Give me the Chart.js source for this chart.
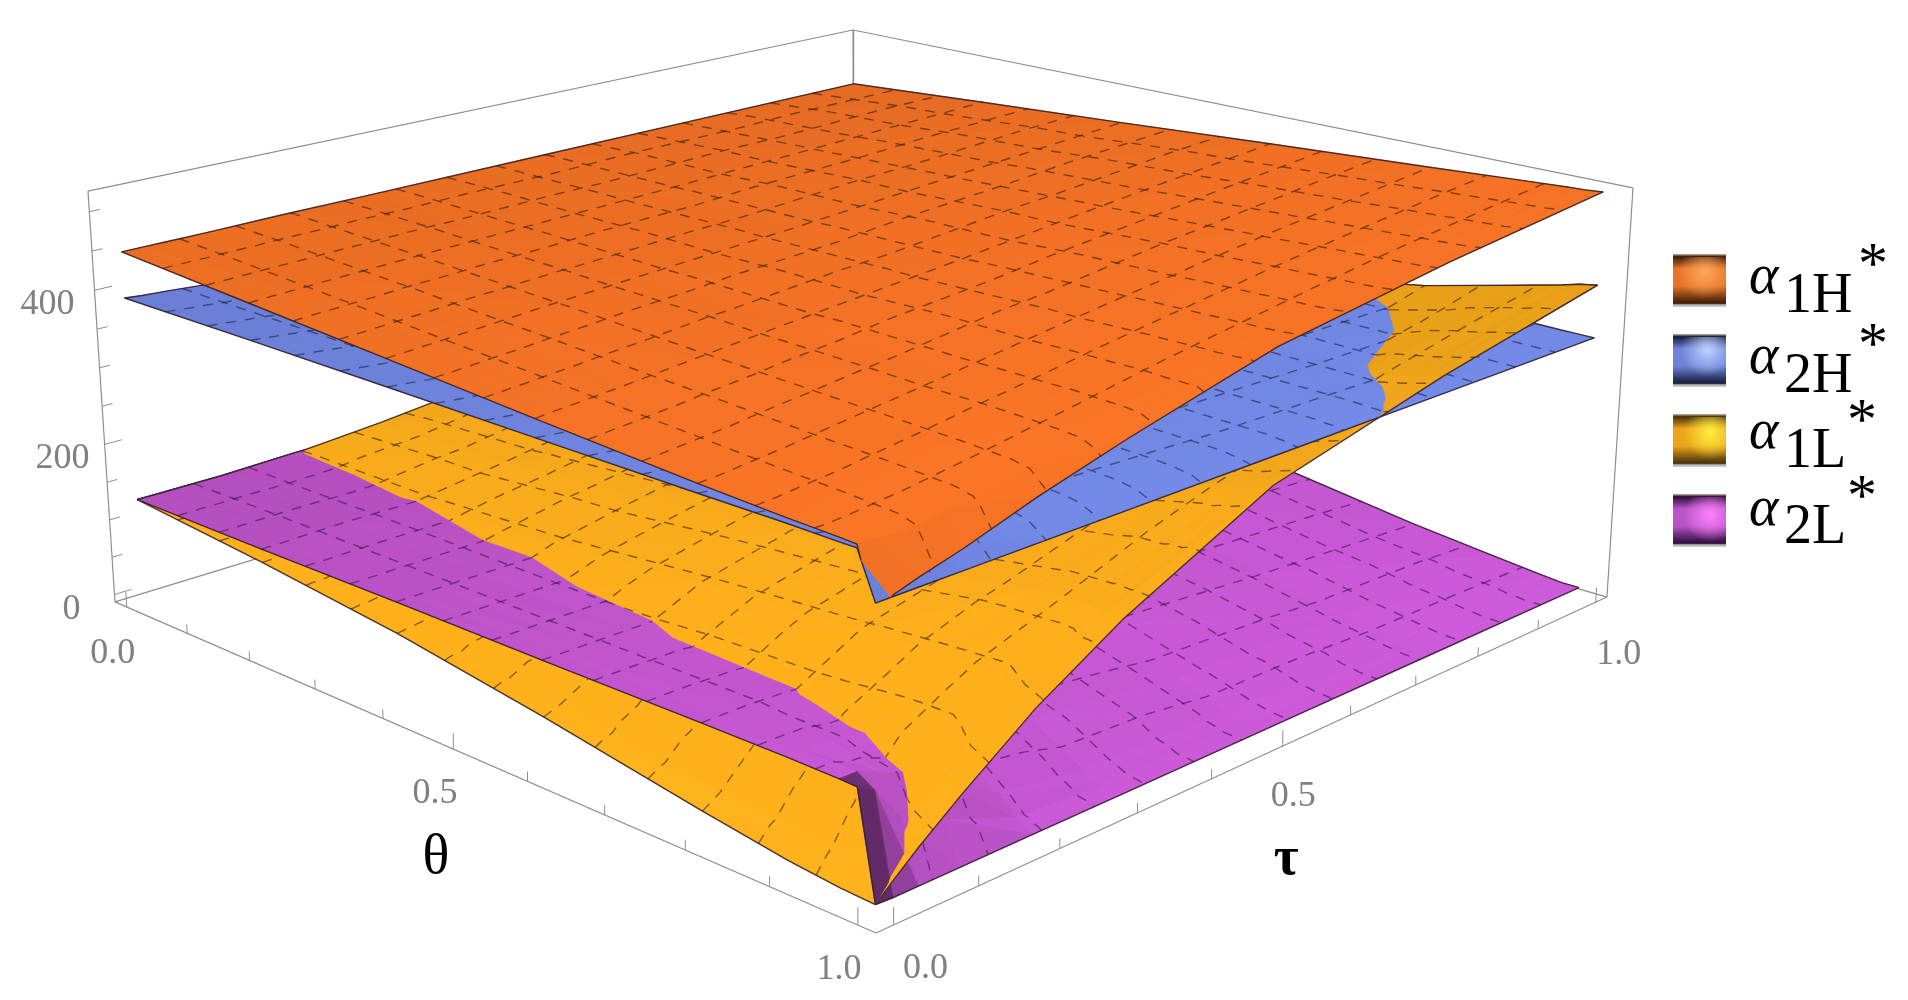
<!DOCTYPE html>
<html>
<head>
<meta charset="utf-8">
<title>alpha</title>
<script src="https://cdn.jsdelivr.net/npm/chart.js@4/dist/chart.umd.min.js"></script>
<style>
    html,body{margin:0;padding:0;background:#fff;}
    canvas{display:block;}
</style>
</head>
<body>
<canvas id="grafico" width="1908" height="1000"></canvas>
<script>

// Datos: filas = theta, columnas = tau

const thetaVals = [0,.2,.4,.6,.8,.9,.96,.98,1];
const tauVals = [0,.02,.05,.1,.19,.3,.5,.75,1];

const alpha1H = [
    [449,449,449,449,450,450,451,452,453],
    [436,437,438,440,443,446,451,459,467],
    [423,424,426,429,435,441,451,466,480],
    [410,412,414,418,426,436,452,474,494],
    [398,399,402,407,418,431,456,484,507],
    [393,394,397,402,414,430,458,489,514],
    [391,391,393,398,410,427,459,492,518],
    [390,388,386,393,406,425,460,493,519],
    [320,336,345,358,386,415,462,495,521]
];

const alpha2H = [
    [390,388,386,382,376,368,358,350,345],
    [390,388,385,380,372,364,354,346,342],
    [389,387,384,378,369,361,351,344,340],
    [388,386,383,376,367,358,348,342,338],
    [387,385,381,373,364,355,345,339,336],
    [387,384,379,370,361,352,342,337,335],
    [386,382,375,365,356,348,340,336,334],
    [386,378,369,358,350,344,338,335,334],
    [334,334,334,334,334,334,334,334,334]
];

const alpha1L = [
    [127,125,122,117,129,138,160,185,210],
    [110,110,110,110,129,145,178,212,245],
    [89,92,97,107,138,160,195,240,280],
    [60,68,85,115,155,180,215,270,312],
    [27,40,70,120,168,195,240,295,350],
    [12,35,75,130,175,212,270,333,376],
    [6,35,85,130,178,214,285,345,392],
    [5,30,60,97,158,212,292,350,398],
    [4,22,47,85,148,210,299,356,402]
];

const alpha2L = [
    [127,127,127,127,130,130,130,130,130],
    [127,127,128,129,128,125,120,112,105],
    [128,128,128,128,128,122,110,95,80],
    [128,128,128,128,128,115,95,75,55],
    [129,129,129,127,115,90,60,40,24],
    [129,129,128,118,85,55,30,18,12],
    [128,128,115,95,35,18,10,7,5],
    [127,115,70,50,14,7,5,4,3],
    [4,3,3,3,3,3,3,3,3]
];

const meshLines = [1,2,3,4,5,6,7,8,9,10,11,12,13,14].map(k => k / 15);

const thetaTicks = [0,.1,.2,.3,.4,.5,.6,.7,.8,.9,1];
const tauTicks = [0,.1,.2,.3,.4,.5,.6,.7,.8,.9,1];
const zTicks = [0,50,100,150,200,250,300,350,400,450,500];

const horizVals = [0,.5,1];
const horizLabels = ["0.0","0.5","1.0"];
const zVals = [0,200,400];
const zLabels = ["0","200","400"];
const legendSubs = ["1H","2H","1L","2L"];

// Caja y camara

const PAD = .02;
const Z_MIN = -10;
const Z_MAX = 526;

const boxPoints = [
    [-PAD,-PAD,Z_MIN],
    [-PAD,-PAD,Z_MAX],
    [1+PAD,1+PAD,Z_MIN],
    [1+PAD,1+PAD,Z_MAX],
    [1+PAD,-PAD,Z_MIN],
    [-PAD,1+PAD,Z_MAX]
];

const screenPoints = [
    [115,602],[88,191],[1607,597],[1633,188],[876,933],[853,30]
];

function solveCamera(){

    const rows = [];
    const rhs = [];

    boxPoints.forEach((p,i) => {

        const sx = screenPoints[i][0] / 1000;
        const sy = screenPoints[i][1] / 1000;
        const [a,b,c] = [p[0],p[1],p[2] / 500];

        rows.push([a,b,c,1,0,0,0,0,-sx*a,-sx*b,-sx*c]);
        rhs.push(sx);
        rows.push([0,0,0,0,a,b,c,1,-sy*a,-sy*b,-sy*c]);
        rhs.push(sy);

    });

    const n = 11;
    const m = [];

    for(let i = 0; i < n; i++){
        m.push([]);
        for(let j = 0; j < n; j++){
            let s = 0;
            rows.forEach(r => { s += r[i] * r[j]; });
            m[i].push(s);
        }
        let s = 0;
        rows.forEach((r,k) => { s += r[i] * rhs[k]; });
        m[i].push(s);
    }

    for(let i = 0; i < n; i++){
        let best = i;
        for(let k = i + 1; k < n; k++){
            if(Math.abs(m[k][i]) > Math.abs(m[best][i])) best = k;
        }
        [m[i],m[best]] = [m[best],m[i]];
        for(let k = 0; k < n; k++){
            if(k === i) continue;
            const f = m[k][i] / m[i][i];
            for(let j = i; j <= n; j++) m[k][j] -= f * m[i][j];
        }
    }

    return m.map((r,i) => r[n] / r[i]);

}

const cam = solveCamera();

function project(t,u,z){

    const c = z / 500;
    const w = cam[8]*t + cam[9]*u + cam[10]*c + 1;

    return {
        x: 1000 * (cam[0]*t + cam[1]*u + cam[2]*c + cam[3]) / w,
        y: 1000 * (cam[4]*t + cam[5]*u + cam[6]*c + cam[7]) / w
    };

}

// Utilidades sobre la malla

function cellIndex(vals,v){

    let i = 0;
    while(i < vals.length - 2 && v > vals[i+1]) i++;
    return i;

}

function zAt(grid,t,u){

    const i = cellIndex(thetaVals,t);
    const j = cellIndex(tauVals,u);
    const ft = (t - thetaVals[i]) / (thetaVals[i+1] - thetaVals[i]);
    const fu = (u - tauVals[j]) / (tauVals[j+1] - tauVals[j]);

    if(fu <= ft){
        return grid[i][j] + ft*(grid[i+1][j] - grid[i][j]) + fu*(grid[i+1][j+1] - grid[i+1][j]);
    }

    return grid[i][j] + fu*(grid[i][j+1] - grid[i][j]) + ft*(grid[i+1][j+1] - grid[i][j+1]);

}

function mix(a,b,f){

    return {
        t: a.t + f*(b.t - a.t),
        u: a.u + f*(b.u - a.u),
        z: a.z + f*(b.z - a.z),
        d: a.d + f*(b.d - a.d)
    };

}

function vertex(grid,other,t,u){

    const z = zAt(grid,t,u);
    return {t,u,z,d: other ? z - zAt(other,t,u) : 1};

}

function clipPoly(verts){

    const out = [];

    verts.forEach((a,i) => {
        const b = verts[(i+1) % verts.length];
        if(a.d > 0) out.push(a);
        if((a.d > 0) !== (b.d > 0)) out.push(mix(a,b,a.d / (a.d - b.d)));
    });

    return out;

}

function toData(pts){

    return pts.map(p => project(p.t,p.u,p.z));

}

function shadeColor(style,pts){

    const [a,b,c] = pts;
    const k = 1 / 975;
    const ux = b.t - a.t, uy = b.u - a.u, uz = (b.z - a.z) * k;
    const vx = c.t - a.t, vy = c.u - a.u, vz = (c.z - a.z) * k;
    let nx = uy*vz - uz*vy, ny = uz*vx - ux*vz, nz = ux*vy - uy*vx;
    const len = Math.hypot(nx,ny,nz) || 1;
    if(nz < 0){ nx = -nx; ny = -ny; nz = -nz; }

    const light = (nx*style.light[0] + ny*style.light[1] + nz*style.light[2]) / len;
    const ct = pts.reduce((s,p) => s + p.t,0) / pts.length;
    const cu = pts.reduce((s,p) => s + p.u,0) / pts.length;
    const rel = Math.min(1.05,Math.max(light,0) / style.light[2]);
    let f = (1 - style.s*(1 - rel)) * (1 + style.a*(ct - .5) + style.b*(cu - .5));

    // Pliegue oscuro junto a theta = 1, tau = 0

    if(style.fold && ct > .955 && cu < .014) f *= style.fold;
    else if(style.fold && ct > .955 && cu < .035) f *= .82;

    return "rgb(" + style.rgb.map(v => Math.min(255,Math.round(v*f))).join(",") + ")";

}

// Conjuntos de datos, en orden de pintado

const painted = [];

function addLine(data,color,width,dash){

    painted.push({
        data,
        showLine:true,
        fill:false,
        borderColor:color,
        borderWidth:width,
        borderDash:dash || [],
        pointRadius:0,
        tension:0
    });

}

function addPoly(pts,color){

    const data = toData(pts);
    data.push(data[0]);

    painted.push({
        data,
        showLine:true,
        fill:"shape",
        backgroundColor:color,
        borderColor:color,
        borderWidth:.8,
        pointRadius:0,
        tension:0
    });

}

function addRuns(pts,color,width,dash){

    let run = [];

    pts.forEach((p,i) => {
        if(i > 0 && (pts[i-1].d > 0) !== (p.d > 0)){
            const cross = mix(pts[i-1],p,pts[i-1].d / (pts[i-1].d - p.d));
            run.push(cross);
            if(run.length > 1 && pts[i-1].d > 0) addLine(toData(run),color,width,dash);
            run = [cross];
        }
        if(p.d > 0) run.push(p);
    });

    if(run.length > 1 && pts[pts.length-1].d > 0) addLine(toData(run),color,width,dash);

}

function addLayer(grid,other,style){

    // Triangulos de atras hacia adelante

    const tris = [];

    for(let i = 0; i < thetaVals.length - 1; i++){
        for(let j = 0; j < tauVals.length - 1; j++){

            const t0 = thetaVals[i], t1 = thetaVals[i+1];
            const u0 = tauVals[j], u1 = tauVals[j+1];

            tris.push([[t0,u0],[t1,u0],[t1,u1]]);
            tris.push([[t0,u0],[t1,u1],[t0,u1]]);

        }
    }

    tris.sort((p,q) => {
        const dp = p[0][0] + p[1][0] + p[2][0] - p[0][1] - p[1][1] - p[2][1];
        const dq = q[0][0] + q[1][0] + q[2][0] - q[0][1] - q[1][1] - q[2][1];
        return dp - dq;
    });

    tris.forEach(tri => {

        const verts = tri.map(v => {
            const i = thetaVals.indexOf(v[0]);
            const j = tauVals.indexOf(v[1]);
            const z = grid[i][j];
            return {t:v[0],u:v[1],z,d: other ? z - other[i][j] : 1};
        });

        const poly = clipPoly(verts);
        if(poly.length < 3) return;

        addPoly(poly,shadeColor(style,verts));

    });

    // Malla discontinua

    meshLines.forEach(c => {

        const j = cellIndex(tauVals,c);
        const i = cellIndex(thetaVals,c);

        const us = [];
        tauVals.forEach((u,k) => {
            us.push(u);
            if(k < tauVals.length - 1){
                const f = (c - thetaVals[i]) / (thetaVals[i+1] - thetaVals[i]);
                us.push(u + f*(tauVals[k+1] - u));
            }
        });

        const ts = [];
        thetaVals.forEach((t,k) => {
            ts.push(t);
            if(k < thetaVals.length - 1){
                const f = (c - tauVals[j]) / (tauVals[j+1] - tauVals[j]);
                ts.push(t + f*(thetaVals[k+1] - t));
            }
        });

        addRuns(us.map(u => vertex(grid,other,c,u)),style.mesh,1.4,[10,9]);
        addRuns(ts.map(t => vertex(grid,other,t,c)),style.mesh,1.4,[10,9]);

    });

    // Borde de la superficie

    const edge = "rgba(45,28,40,.85)";

    [0,1].forEach(v => {
        addRuns(tauVals.map(u => vertex(grid,other,v,u)),edge,1.4);
        addRuns(thetaVals.map(t => vertex(grid,other,t,v)),edge,1.4);
    });

}

// Caja

const boxColor = "#8e8e8e";
const lo = -PAD, hi = 1 + PAD;

[
    [[lo,lo,Z_MIN],[lo,lo,Z_MAX]],
    [[lo,lo,Z_MAX],[lo,hi,Z_MAX]],
    [[lo,hi,Z_MAX],[hi,hi,Z_MAX]],
    [[hi,hi,Z_MAX],[hi,hi,Z_MIN]],
    [[lo,hi,Z_MAX],[lo,hi,Z_MIN]],
    [[lo,lo,Z_MIN],[lo,hi,Z_MIN]],
    [[lo,hi,Z_MIN],[hi,hi,Z_MIN]],
    [[lo,lo,Z_MIN],[hi,lo,Z_MIN]],
    [[hi,lo,Z_MIN],[hi,hi,Z_MIN]]
].forEach(s => {
    addLine(s.map(p => project(p[0],p[1],p[2])),boxColor,1.2);
});

thetaTicks.forEach((t,i) => {
    const h = i % 5 === 0 ? 20 : 12;
    addLine([project(t,lo,Z_MIN),project(t,lo,Z_MIN + h)],boxColor,1);
});

tauTicks.forEach((u,i) => {
    const h = i % 5 === 0 ? 20 : 12;
    addLine([project(hi,u,Z_MIN),project(hi,u,Z_MIN + h)],boxColor,1);
});

zTicks.forEach((z,i) => {
    const l = i % 4 === 0 ? .02 : .012;
    addLine([project(lo,lo,z),project(lo,lo + l,z)],boxColor,1);
});

// Superficies

const orangeStyle = {rgb:[240,112,36],light:[.3,-.3,.9],s:.1,a:.07,b:-.02,mesh:"rgba(70,35,15,.65)"};
const blueStyle = {rgb:[110,132,222],light:[.3,-.3,.9],s:.2,a:.08,b:0,mesh:"rgba(30,35,70,.6)"};
const yellowStyle = {rgb:[243,167,26],light:[.3,-.3,.9],s:.05,a:.03,b:-.12,mesh:"rgba(70,45,10,.65)"};
const purpleStyle = {rgb:[192,84,204],light:[.25,-.2,.95],s:.2,a:.12,b:.02,fold:.55,mesh:"rgba(60,20,80,.6)"};

addLayer(alpha2L,null,purpleStyle);
addLayer(alpha1L,null,yellowStyle);
addLayer(alpha2L,alpha1L,purpleStyle);
addLayer(alpha2H,null,blueStyle);
addLayer(alpha1L,alpha2H,yellowStyle);
addLayer(alpha1H,alpha2H,orangeStyle);

// Textos y leyenda

const tickFont = "36px 'Liberation Serif'";
const tickColor = "#808080";

const thetaLabelShift = [[-14,56],[-19,54],[-19,54]];
const tauLabelShift = [[32,53],[11,60],[23,62]];
const zLabelShift = [[-34,24],[-15,24],[-20,24]];

const legendStyle = [
    {base:"#e8752a",dark:"#3c1a06",glow:"rgba(255,170,96,.9)",top:254,gx:.6,gy:.34,alpha:293,sub:312,star:283,starX:1873},
    {base:"#6f84d8",dark:"#141c3c",glow:"rgba(188,210,255,.95)",top:334,gx:.65,gy:.3,alpha:373,sub:392,star:363,starX:1873},
    {base:"#eda51c",dark:"#46300a",glow:"rgba(255,240,64,.95)",top:414,gx:.7,gy:.35,alpha:448,sub:467,star:439,starX:1862},
    {base:"#b955c8",dark:"#2c0c38",glow:"rgba(255,128,255,.95)",top:494,gx:.7,gy:.4,alpha:525,sub:543,star:515,starX:1862}
];

const textos = {

    id:"textos",

    afterDraw(chart){

        const c = chart.ctx;
        const sx = v => chart.scales.x.getPixelForValue(v);
        const sy = v => chart.scales.y.getPixelForValue(v);

        c.save();
        c.textAlign = "center";
        c.textBaseline = "alphabetic";

        // Etiquetas de ejes

        c.font = tickFont;
        c.fillStyle = tickColor;

        horizVals.forEach((v,i) => {
            const a = project(v,lo,Z_MIN);
            c.fillText(horizLabels[i],sx(a.x) + thetaLabelShift[i][0],sy(a.y) + thetaLabelShift[i][1]);
            const b = project(hi,v,Z_MIN);
            c.fillText(horizLabels[i],sx(b.x) + tauLabelShift[i][0],sy(b.y) + tauLabelShift[i][1]);
        });

        c.textAlign = "right";

        zVals.forEach((v,i) => {
            const a = project(lo,lo,v);
            c.fillText(zLabels[i],sx(a.x) + zLabelShift[i][0],sy(a.y) + zLabelShift[i][1]);
        });

        c.textAlign = "center";
        c.fillStyle = "#000";
        c.font = "56px 'Liberation Serif'";

        const th = project(.5,lo,Z_MIN);
        c.fillText("θ",sx(th.x) - 18,sy(th.y) + 124);

        c.font = "bold 54px 'Liberation Serif'";
        const ta = project(hi,.5,Z_MIN);
        c.fillText("τ",sx(ta.x) + 4,sy(ta.y) + 128);

        // Leyenda

        legendStyle.forEach((s,i) => {

            const x = 1673, w = 53, h = 53, y = s.top;

            const g = c.createLinearGradient(0,y,0,y + h);
            g.addColorStop(0,"#c9b9a0");
            g.addColorStop(.05,s.dark);
            g.addColorStop(.28,s.base);
            g.addColorStop(.6,s.base);
            g.addColorStop(.93,s.dark);
            g.addColorStop(.96,"#b5b5b5");
            g.addColorStop(1,"#d0d0d0");
            c.fillStyle = g;
            c.fillRect(x,y,w,h);

            const r = c.createRadialGradient(x + s.gx*w,y + s.gy*h,1,x + s.gx*w,y + s.gy*h,w*.5);
            r.addColorStop(0,s.glow);
            r.addColorStop(1,s.glow.replace(/[\d.]+\)$/,"0)"));
            c.fillStyle = r;
            c.fillRect(x,y + 3,w,h - 8);

            c.fillStyle = "#000";
            c.textAlign = "left";

            c.font = "italic 56px 'Liberation Serif'";
            c.fillText("α",1749,s.alpha);

            c.font = "56px 'Liberation Serif'";
            c.fillText(legendSubs[i],1784,s.sub);

            c.font = "60px 'Liberation Serif'";
            c.textAlign = "center";
            c.fillText("*",s.starX,s.star);

        });

        c.restore();

    }

};

// Crear grafico (el primer dataset queda arriba, por eso se invierte)

const ctx = document.getElementById("grafico");

new Chart(ctx,{

    type:"scatter",

    data:{
        datasets:painted.slice().reverse()
    },

    options:{

        responsive:false,

        animation:false,

        events:[],

        layout:{
            padding:0
        },

        plugins:{
            legend:{display:false},
            tooltip:{enabled:false},
            title:{display:false}
        },

        scales:{
            x:{type:"linear",min:0,max:1908,display:false},
            y:{type:"linear",min:0,max:1000,reverse:true,display:false}
        }

    },

    plugins:[textos]

});

</script>
</body>
</html>
